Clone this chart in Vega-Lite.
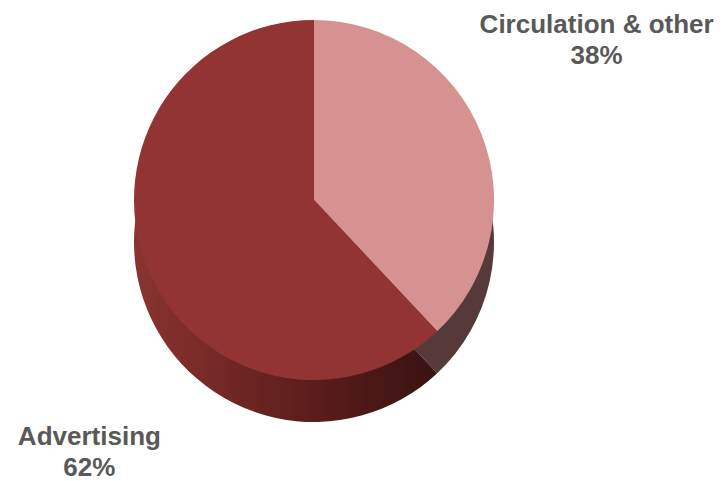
{
  "$schema": "https://vega.github.io/schema/vega-lite/v6.json",
  "width": 727,
  "height": 481,
  "autosize": {"type": "none"},
  "padding": 0,
  "background": "white",
  "view": {"stroke": null},
  "data": {
    "values": [
      {"segment": "Circulation & other", "share": 38, "label": "Circulation & other\n38%"},
      {"segment": "Advertising", "share": 62, "label": "Advertising\n62%"}
    ]
  },
  "encoding": {
    "theta": {"field": "share", "type": "quantitative", "stack": true},
    "order": {"field": "share", "sort": "ascending"}
  },
  "layer": [
    {
      "mark": {"type": "arc", "radius": 180, "x": 314, "y": 200, "yOffset": 42, "strokeWidth": 0},
      "encoding": {
        "fill": {
          "condition": {"test": "datum.segment === 'Circulation & other'", "value": "#563a3a"},
          "value": {"gradient": "linear", "x1": 0, "x2": 1, "y1": 0, "y2": 0, "stops": [{"offset": 0, "color": "#8a3430"}, {"offset": 0.55, "color": "#5e1e1c"}, {"offset": 1, "color": "#391212"}]}
        }
      }
    },
    {
      "mark": {"type": "arc", "radius": 180, "x": 314, "y": 200, "strokeWidth": 0},
      "encoding": {
        "color": {"field": "segment", "type": "nominal", "legend": null, "scale": {"domain": ["Advertising", "Circulation & other"], "range": ["#923434", "#d69191"]}}
      }
    },
    {
      "mark": {"type": "text", "radius": 333, "x": 314, "y": 200, "dx": -27, "dy": -52, "lineBreak": "\n", "font": "Liberation Sans", "fontWeight": "bold", "fontSize": 26, "fill": "#595959", "align": "center", "baseline": "middle", "lineHeight": 31},
      "encoding": {
        "text": {"condition": {"test": "datum.segment === 'Circulation & other'", "field": "label"}, "value": ""}
      }
    },
    {
      "mark": {"type": "text", "radius": 333, "x": 314, "y": 200, "dx": 85, "dy": 114, "lineBreak": "\n", "font": "Liberation Sans", "fontWeight": "bold", "fontSize": 26, "fill": "#595959", "align": "center", "baseline": "middle", "lineHeight": 31},
      "encoding": {
        "text": {"condition": {"test": "datum.segment === 'Advertising'", "field": "label"}, "value": ""}
      }
    }
  ],
  "resolve": {"scale": {"color": "independent"}}
}
